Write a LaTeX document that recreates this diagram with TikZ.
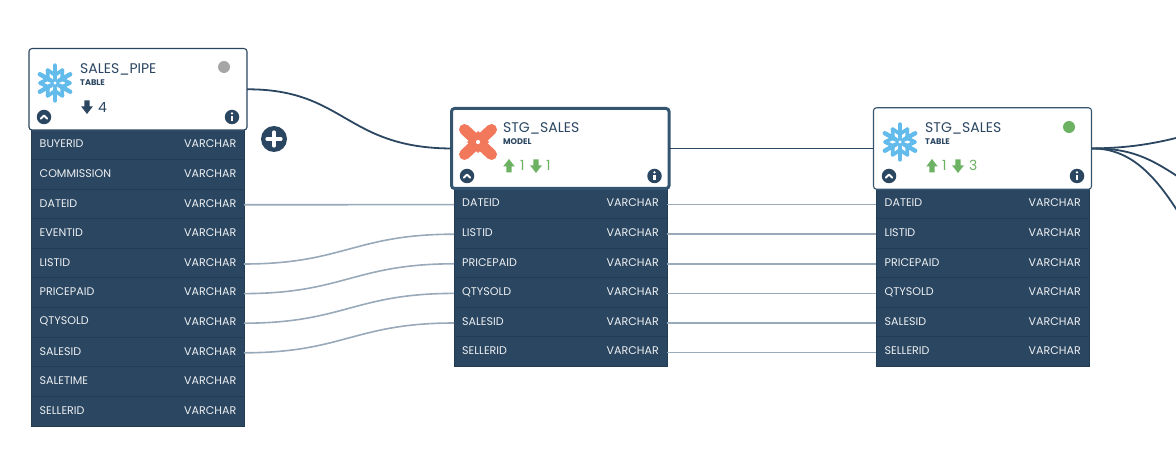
\documentclass[tikz,border=0pt]{standalone}
\usepackage{fontspec}
\setmainfont{Poppins}
\definecolor{navy}{HTML}{2A4661}
\definecolor{sepc}{HTML}{233C54}
\definecolor{edgec}{HTML}{98A9B9}
\definecolor{flake}{HTML}{62BBEB}
\definecolor{dbtc}{HTML}{F2785C}
\definecolor{grn}{HTML}{6DB263}
\definecolor{dotg}{HTML}{A6A6A6}
\definecolor{bord}{HTML}{34556F}
\tikzset{
 rowbox/.style={fill=navy,draw=sepc,line width=.6pt,minimum width=212.6pt,minimum height=29.6pt,inner sep=0pt,outer sep=0pt},
 colname/.style={font=\fontsize{11.1}{13}\selectfont,text=white!92!navy,inner sep=0pt,anchor=west},
 coltype/.style={font=\fontsize{11.1}{13}\selectfont,text=white!92!navy,inner sep=0pt,anchor=east},
 card/.style={draw=navy,fill=white,rounded corners=3pt,line width=1.1pt,minimum width=218pt,minimum height=81.5pt,inner sep=0pt,outer sep=0pt},
 title/.style={font=\fontsize{14}{16}\selectfont,text=navy,inner sep=0pt,anchor=west},
 kind/.style={font=\bfseries\fontsize{8.2}{9}\selectfont,text=navy,inner sep=0pt,anchor=west},
 count/.style={font=\fontsize{14}{16}\selectfont,inner sep=0pt,anchor=west},
 coledge/.style={draw=edgec,line width=1.6pt},
 mainedge/.style={draw=navy,line width=1.8pt},
 roundbtn/.style={circle,fill=navy,minimum size=14.5pt,inner sep=0pt,outer sep=0pt},
 stat/.style={circle,minimum size=12pt,inner sep=0pt},
}
\newcommand{\flakeicon}[2]{%
 \begin{scope}[shift={(#1,#2)}]
  \foreach \a in {0,60,...,300}{
   \begin{scope}[rotate=\a]
    \draw[flake,line width=4.4pt,line cap=round] (0,5)--(0,17.5);
    \draw[flake,line width=3.6pt,line cap=round] (-7.5,13)--(0,8)--(7.5,13);
   \end{scope}}
  \fill[flake] (0,0) circle (4.5pt);
  \fill[white] (0,0) circle (1.7pt);
 \end{scope}}
\newcommand{\dbticon}[2]{%
 \begin{scope}[shift={(#1,#2)}]
  \draw[dbtc,line width=11pt,line cap=round] (-13.5,-12.5)--(13.5,12.5) (-13.5,12.5)--(13.5,-12.5);
  \fill[dbtc] (0,-11)--(11,0)--(0,11)--(-11,0)--cycle;
  \fill[white] (0,0) circle (2.1pt);
 \end{scope}}
\newcommand{\uparr}[3]{\fill[#3] (#1,#2-7)--(#1+5.8,#2+.5)--(#1+2.6,#2+.5)--(#1+2.6,#2+6.5)--(#1-2.6,#2+6.5)--(#1-2.6,#2+.5)--(#1-5.8,#2+.5)--cycle;}
\newcommand{\dnarr}[3]{\fill[#3] (#1,#2+7)--(#1+5.8,#2-.5)--(#1+2.6,#2-.5)--(#1+2.6,#2-6.5)--(#1-2.6,#2-6.5)--(#1-2.6,#2-.5)--(#1-5.8,#2-.5)--cycle;}
\newcommand{\chevbtn}[3]{\node[roundbtn] (#3) at (#1,#2) {};\draw[white,line width=1.9pt,line cap=round,line join=round] (#1-3.2,#2+1.6)--(#1,#2-1.4)--(#1+3.2,#2+1.6);}
\newcommand{\infobtn}[3]{\node[roundbtn] (#3) at (#1,#2) {};\fill[white] (#1,#2-3.6) circle (1.3pt);\fill[white] (#1-1.3,#2-1.2) rectangle (#1+1.3,#2+4.1);}
\begin{document}
\begin{tikzpicture}[x=1pt,y=-1pt]
\useasboundingbox (0,0) rectangle (1176,454);
\clip (0,0) rectangle (1176,454);
% free ends
\coordinate (out1) at (1180,137);
\coordinate (out2) at (1180,178);
\coordinate (out3) at (1180,215);
% rows: left table
\foreach \i/\y/\n in {1/144.6/BUYERID,2/174.2/COMMISSION,3/203.8/DATEID,4/233.4/EVENTID,5/263/LISTID,6/292.6/PRICEPAID,7/322.2/QTYSOLD,8/351.8/SALESID,9/381.4/SALETIME,10/411/SELLERID}{
 \node[rowbox] (a\i) at (137.5,\y) {};
 \node[colname] (an\i) at (39.5,\y-.5) {\n};
 \node[coltype] (at\i) at (236.5,\y-.5) {VARCHAR};
}
% rows: middle table
\foreach \i/\y/\n in {1/203.6/DATEID,2/233.2/LISTID,3/262.8/PRICEPAID,4/292.4/QTYSOLD,5/322/SALESID,6/351.6/SELLERID}{
 \node[rowbox] (b\i) at (560.5,\y) {};
 \node[colname] (bn\i) at (462,\y-.5) {\n};
 \node[coltype] (bt\i) at (659,\y-.5) {VARCHAR};
}
% rows: right table
\foreach \i/\y/\n in {1/203.6/DATEID,2/233.2/LISTID,3/262.8/PRICEPAID,4/292.4/QTYSOLD,5/322/SALESID,6/351.6/SELLERID}{
 \node[rowbox] (c\i) at (982.5,\y) {};
 \node[colname] (cn\i) at (884.5,\y-.5) {\n};
 \node[coltype] (ct\i) at (1081,\y-.5) {VARCHAR};
}
% column edges
\foreach \s/\t in {a3/b1,a5/b2,a6/b3,a7/b4,a8/b5,b1/c1,b2/c2,b3/c3,b4/c4,b5/c5,b6/c6}{
 \draw[coledge] ([yshift=-1pt]\s.east) .. controls +(100,0) and ([xshift=-100pt,yshift=-1pt]\t.west) .. ([yshift=-1pt]\t.west);
}
% cards
\node[card] (sp) at (138,89.3) {};
\node[card,draw=bord,line width=3pt,minimum width=217.5pt,minimum height=80pt] (sm) at (560.3,148.5) {};
\node[card,draw=bord] (st) at (982.5,148.5) {};
% table edges
\draw[mainedge] (sp.east) .. controls (345,89) and (345,148) .. (sm.west);
\draw[mainedge] (sm.east) -- (st.west);
\draw[mainedge] (st.east) .. controls (1120,148) and (1145,146) .. (out1);
\draw[mainedge] (st.east) .. controls (1130,148) and (1150,158) .. (out2);
\draw[mainedge] (st.east) .. controls (1130,148) and (1155,175) .. (out3);
% plus button
\node[circle,fill=navy,minimum size=26pt,inner sep=0pt] (plus) at (274,139) {};
\draw[white,line width=3.2pt,line cap=round] (267,139)--(281,139) (274,132)--(274,146);
% card contents
\flakeicon{55}{83}
\node[title] (t1) at (80,69) {SALES\_PIPE};
\node[kind] (k1) at (80,82.5) {TABLE};
\dnarr{87}{107}{navy}
\node[count,text=navy] (n1) at (98,107) {4};
\node[stat,fill=dotg] (d1) at (224,67) {};
\chevbtn{44}{117}{u1}
\infobtn{232}{117}{i1}
\dbticon{478}{142}
\node[title] (t2) at (503,128) {STG\_SALES};
\node[kind] (k2) at (503,141.5) {MODEL};
\uparr{509}{166}{grn}
\node[count,text=grn] (n2) at (520,165.5) {1};
\dnarr{536}{166}{grn}
\node[count,text=grn] (n3) at (546,165.5) {1};
\chevbtn{467}{176}{u2}
\infobtn{654.5}{176}{i2}
\flakeicon{900}{142}
\node[title] (t3) at (925,128) {STG\_SALES};
\node[kind] (k3) at (925,141.5) {TABLE};
\uparr{932}{166}{grn}
\node[count,text=grn] (n4) at (942,165.5) {1};
\dnarr{958}{166}{grn}
\node[count,text=grn] (n5) at (969,165.5) {3};
\node[stat,fill=grn] (d3) at (1069,127) {};
\chevbtn{889}{176}{u3}
\infobtn{1077}{176}{i3}
\end{tikzpicture}
\end{document}
